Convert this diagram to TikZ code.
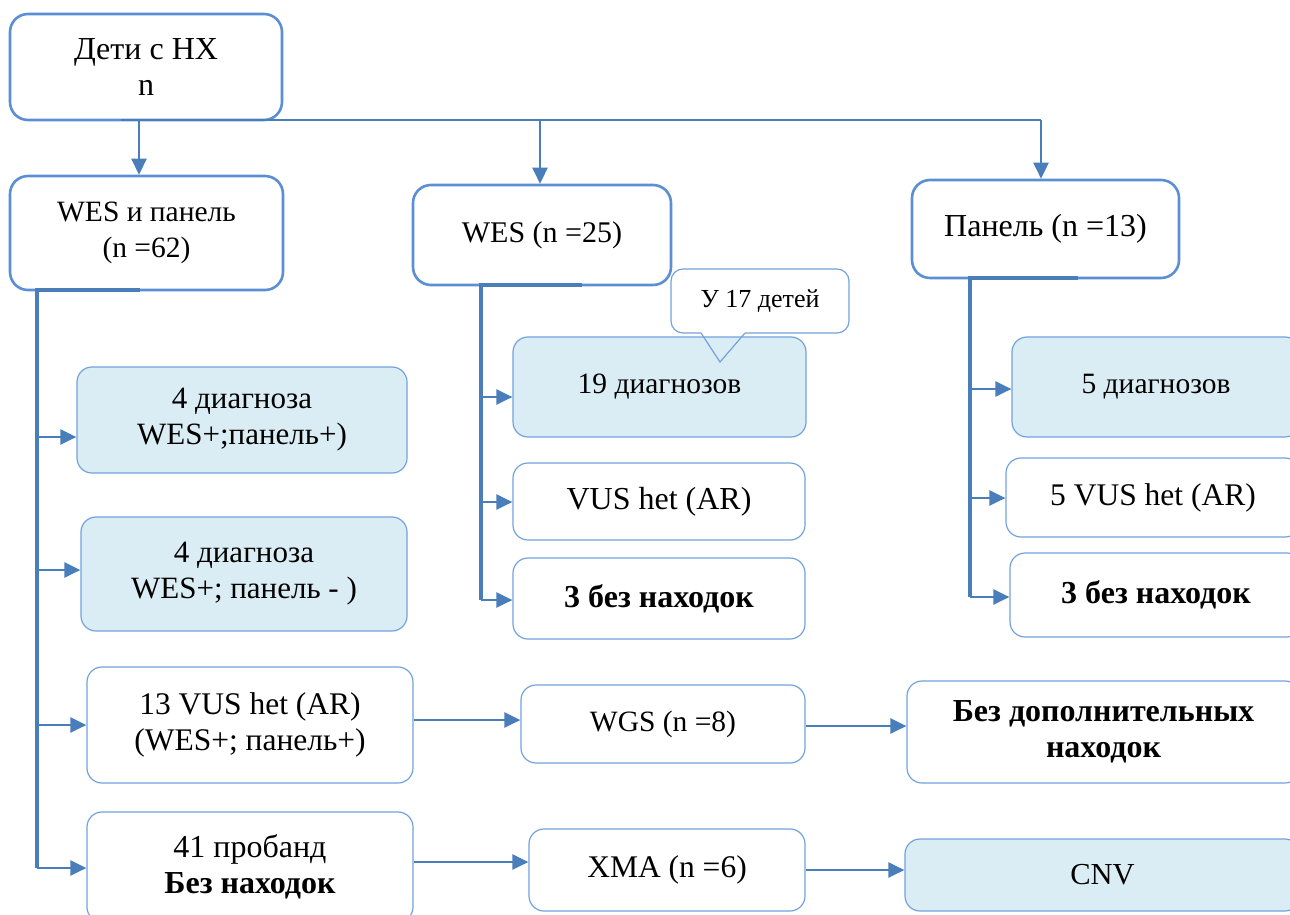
\documentclass[tikz,border=0pt]{standalone}
\usepackage{fontspec}
\setmainfont{Liberation Serif}
\usetikzlibrary{arrows.meta}
\definecolor{lineblue}{HTML}{4A7EBB}
\definecolor{topborder}{HTML}{5B8FD4}
\definecolor{thinborder}{HTML}{72A2DD}
\definecolor{boxfill}{HTML}{DBEDF4}
\newcommand{\fs}[1]{\fontsize{#1}{36}\selectfont}
\begin{document}
\begin{tikzpicture}[x=1pt,y=-1pt,
 basebox/.style={align=center, inner sep=0pt, fill=white, font=\fs{31}},
 topbox/.style={basebox, draw=topborder, line width=2.6pt, rounded corners=18pt},
 thinbox/.style={basebox, draw=thinborder, line width=1.2pt, rounded corners=15pt},
 filled/.style={fill=boxfill},
 conn/.style={draw=lineblue, line width=2.6pt},
 arr/.style={conn, -{Triangle[length=16pt,width=15pt]}},
 trunk/.style={draw=lineblue, line width=3.4pt},
]
\useasboundingbox (0,0) rectangle (1290,915);
\clip (0,0) rectangle (1290,915);
% top level
\node[topbox, minimum width=272pt, minimum height=106pt, font=\fs{32}] (top) at (146,67) {Дети с НХ\\n};
\node[topbox, minimum width=273pt, minimum height=114pt, font=\fs{29.5}] (wesp) at (146.5,233) {WES и панель\\(n =62)};
\node[topbox, minimum width=258pt, minimum height=100pt, font=\fs{30}] (wes) at (542,235) {WES (n =25)};
\node[topbox, minimum width=267pt, minimum height=98pt, font=\fs{32}] (pan) at (1045.5,229) {Панель (n =13)};
% WES column
\node[thinbox, filled, minimum width=293pt, minimum height=100pt, font=\fs{29.5}] (d19) at (659.5,387) {19 диагнозов};
\node[thinbox, minimum width=292pt, minimum height=77pt, font=\fs{32}] (vus1) at (659,501.5) {VUS het (AR)};
\node[thinbox, minimum width=292pt, minimum height=81pt, font=\fs{32}] (bez1) at (659,598.5) {\bfseries 3 без находок};
% callout
\node[thinbox, rounded corners=12pt, minimum width=178pt, minimum height=64pt, font=\fs{26}] (call) at (760,301) {У 17 детей};
\coordinate (cp1) at (701,333);
\coordinate (cp2) at (745,333);
\coordinate (ctip) at (720,362);
\draw[white, line width=2pt] (cp1) -- (cp2);
\draw[thinborder, line width=1.2pt] (cp1) -- (ctip) -- (cp2);
% panel column
\node[thinbox, filled, minimum width=288pt, minimum height=100pt, font=\fs{29.5}] (d5) at (1156,387) {5 диагнозов};
\node[thinbox, minimum width=294pt, minimum height=79pt, font=\fs{31.5}] (vus5) at (1153,497.5) {5 VUS het (AR)};
\node[thinbox, minimum width=292pt, minimum height=84pt, font=\fs{32}] (bez5) at (1156,595) {\bfseries 3 без находок};
% WES+panel column
\node[thinbox, filled, minimum width=330pt, minimum height=106pt] (d4a) at (242,420) {4 диагноза\\WES+;панель+)};
\node[thinbox, filled, minimum width=326pt, minimum height=114pt] (d4b) at (244,574) {4 диагноза\\WES+; панель - )};
\node[thinbox, minimum width=326pt, minimum height=116pt, font=\fs{31.5}] (vus13) at (250,725) {13 VUS het (AR)\\(WES+; панель+)};
\node[thinbox, minimum width=326pt, minimum height=110pt, font=\fs{32}] (prob) at (250,867) {41 пробанд\\\textbf{Без находок}};
% further tests
\node[thinbox, minimum width=284pt, minimum height=78pt, font=\fs{29.5}] (wgs) at (663,724) {WGS (n =8)};
\node[thinbox, minimum width=393pt, minimum height=102pt, font=\fs{32}] (bezdop) at (1103.5,732) {\bfseries Без дополнительных\\\bfseries находок};
\node[thinbox, minimum width=276pt, minimum height=82pt, font=\fs{31.5}] (xma) at (667,870) {ХМА (n =6)};
\node[thinbox, filled, minimum width=395pt, minimum height=72pt, font=\fs{30.5}] (cnv) at (1102.5,875) {CNV};
% connectors from top
\coordinate (bus0) at (121,120);
\coordinate (bus1) at (1041,120);
\draw[conn] (bus0) -- (bus1);
\coordinate (b1) at (139,120);
\coordinate (b2) at (540,120);
\draw[arr] (b1) -- (b1 |- wesp.north);
\draw[arr] (b2) -- (b2 |- wes.north);
\draw[arr] (bus1) -- (bus1 |- pan.north);
% left trunk
\coordinate (l0) at (140,290);
\coordinate (l1) at (37,290);
\coordinate (l2) at (37,868);
\draw[trunk] (l0) -- (l1) -- (l2);
\draw[arr] (37,437) -- (37,437 -| d4a.west);
\draw[arr] (37,570) -- (37,570 -| d4b.west);
\draw[arr] (37,725) -- (37,725 -| vus13.west);
\draw[arr] (l2) -- (l2 -| prob.west);
% WES trunk
\coordinate (m0) at (582,285);
\coordinate (m1) at (481,285);
\coordinate (m2) at (481,600);
\draw[trunk] (m0) -- (m1) -- (m2);
\draw[arr] (481,397) -- (481,397 -| d19.west);
\draw[arr] (481,502) -- (481,502 -| vus1.west);
\draw[arr] (m2) -- (m2 -| bez1.west);
% panel trunk
\coordinate (r0) at (1078,278);
\coordinate (r1) at (970,278);
\coordinate (r2) at (970,597);
\draw[trunk] (r0) -- (r1) -- (r2);
\draw[arr] (970,389) -- (970,389 -| d5.west);
\draw[arr] (970,498) -- (970,498 -| vus5.west);
\draw[arr] (r2) -- (r2 -| bez5.west);
% horizontal arrows
\draw[arr] (vus13.east |- 0,720) -- (wgs.west |- 0,720);
\draw[arr] (wgs.east |- 0,726) -- (bezdop.west |- 0,726);
\draw[arr] (prob.east |- 0,862) -- (xma.west |- 0,862);
\draw[arr] (xma.east |- 0,870) -- (cnv.west |- 0,870);
\end{tikzpicture}
\end{document}
